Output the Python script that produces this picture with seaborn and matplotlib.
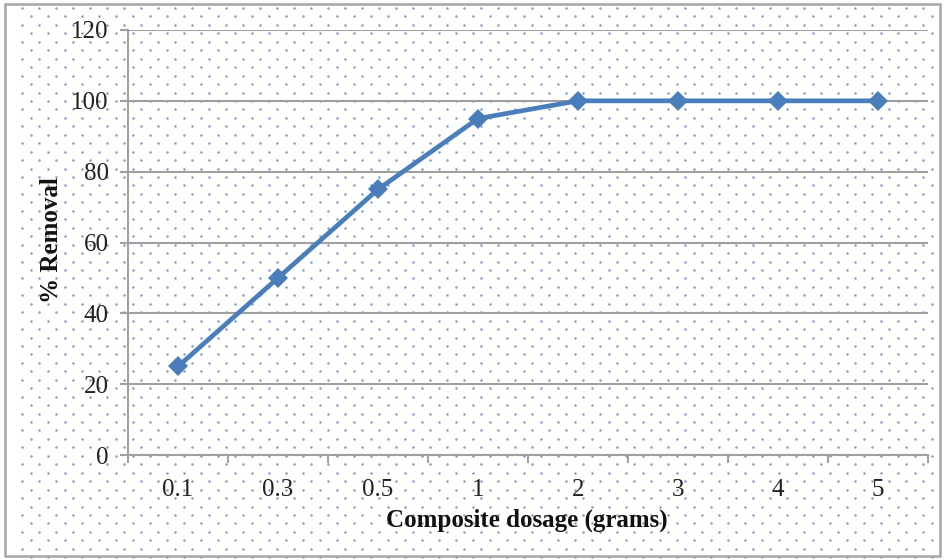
import numpy as np
import pandas as pd
import matplotlib
matplotlib.use("Agg")
import matplotlib.pyplot as plt
from matplotlib.ticker import FixedLocator
import seaborn as sns

# Removal efficiency versus composite dosage
dosage_labels = ["0.1", "0.3", "0.5", "1", "2", "3", "4", "5"]
removal_pct = [25, 50, 75, 95, 100, 100, 100, 100]
y_ticks = [0, 20, 40, 60, 80, 100, 120]

sns.set_theme(style="white")
plt.rcParams["font.family"] = ["Liberation Serif", "DejaVu Serif"]

W, H = 944, 560
fig = plt.figure(figsize=(W / 100, H / 100), dpi=100)

# Dotted chart-area fill spanning the whole figure
bg = fig.add_axes([0, 0, 1, 1], zorder=0)
bg.set_xlim(0, W)
bg.set_ylim(H, 0)
bg.axis("off")
step_x, step_y = 17.0, 8.45
rows = np.arange(8.0, H, step_y)
px, py = [], []
for r, yy in enumerate(rows):
    off = 22.0 if r % 2 == 0 else 22.0 + step_x / 2
    xs = np.arange(off, W - 4, step_x)
    px.extend(xs)
    py.extend([yy] * len(xs))
bg.scatter(px, py, s=3.2, color="#6f8fc2", linewidths=0, alpha=0.9)
bg.add_patch(plt.Rectangle((5, 4), 935, 552, fill=False, edgecolor="#a6a6a6", linewidth=1.8))

ax = fig.add_axes([128 / W, 105 / H, 800 / W, 425 / H], zorder=1)
ax.patch.set_alpha(0)

df = pd.DataFrame({"dosage": dosage_labels, "removal": removal_pct})
sns.lineplot(data=df, x="dosage", y="removal", ax=ax, color="#4a7ebb",
             linewidth=3.4, marker="D", markersize=10, markeredgewidth=0,
             sort=False, zorder=3)

ax.set_xlim(-0.5, len(dosage_labels) - 0.5)
ax.set_ylim(0, 120)
ax.set_yticks(y_ticks)
ax.set_yticklabels([str(v) for v in y_ticks], fontsize=18, color="#222222")
ax.set_xticks(range(len(dosage_labels)))
ax.set_xticklabels(dosage_labels, fontsize=18, color="#222222")
ax.xaxis.set_minor_locator(FixedLocator(np.arange(-0.5, len(dosage_labels), 1.0)))

ax.tick_params(axis="x", which="major", length=0, pad=17)
ax.tick_params(axis="x", which="minor", length=6, width=1.5, color="#a0a0a0", direction="out", bottom=True)
ax.tick_params(axis="y", which="major", length=6, width=1.5, color="#a0a0a0", direction="out", left=True, pad=8)

ax.yaxis.grid(True, color="#a0a0a0", linewidth=1.5)
ax.xaxis.grid(False)
for side in ["top", "right"]:
    ax.spines[side].set_visible(False)
for side in ["left", "bottom"]:
    ax.spines[side].set_color("#a0a0a0")
    ax.spines[side].set_linewidth(1.5)

ax.set_xlabel("Composite dosage (grams)", fontsize=18, fontweight="bold", color="#111111")
ax.set_ylabel("% Removal", fontsize=18, fontweight="bold", color="#111111")
ax.xaxis.set_label_coords(0.499, -0.125)
ax.yaxis.set_label_coords(-0.096, 0.506)
ax.yaxis.label.set_verticalalignment("center")
ax.xaxis.label.set_verticalalignment("top")

fig.savefig("out.png", dpi=100)
